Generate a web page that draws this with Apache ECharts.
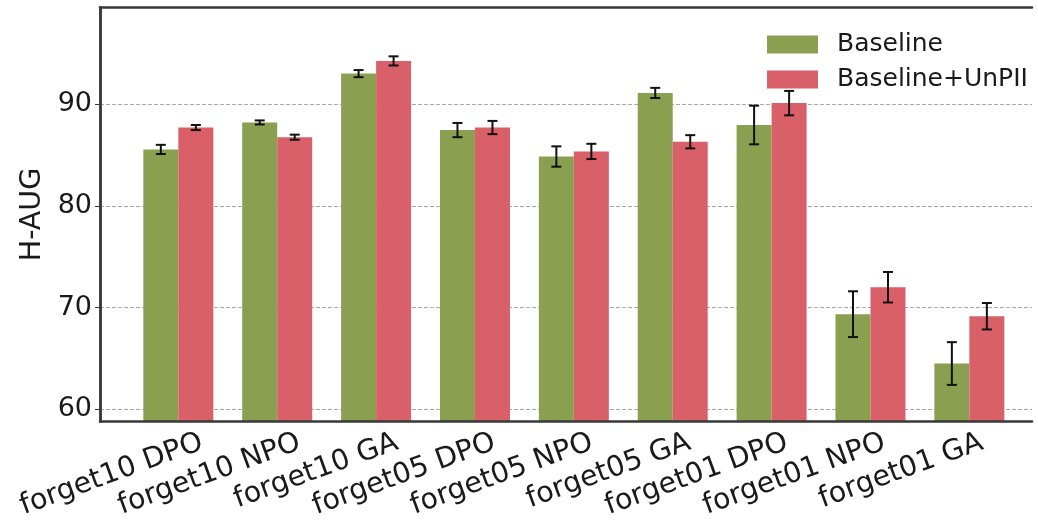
<!DOCTYPE html>
<html><head><meta charset="utf-8">
<script src="https://cdn.jsdelivr.net/npm/echarts@6/dist/echarts.min.js"></script>
<style>html,body{margin:0;padding:0;background:#fff}#c{width:1038px;height:522px}</style>
</head><body><div id="c"></div>
<script>
const categories = ['forget10 DPO','forget10 NPO','forget10 GA','forget05 DPO','forget05 NPO','forget05 GA','forget01 DPO','forget01 NPO','forget01 GA'];
const baseline    = [85.55, 88.2, 93.0, 87.45, 84.85, 91.1, 87.95, 69.35, 64.5];
const baselineErr = [0.45, 0.2, 0.35, 0.7, 1.0, 0.5, 1.9, 2.25, 2.1];
const unpii       = [87.7, 86.75, 94.25, 87.7, 85.35, 86.3, 90.1, 72.0, 69.15];
const unpiiErr    = [0.25, 0.25, 0.45, 0.65, 0.75, 0.65, 1.2, 1.5, 1.3];
const yTicks = [60, 70, 80, 90];
const Y_MIN = 58.8, Y_MAX = 99.5;

const GREEN = '#8b9f50', RED = '#d95f69';
const BAR_W = 35, CAP = 5;
const FONT = 'DejaVu Sans';
const FRAME = '#383838';

const chart = echarts.init(document.getElementById('c'), null, {renderer: 'canvas'});

function errRender(sign) {
  return function (params, api) {
    const x = api.value(0), v = api.value(1), e = api.value(2);
    const hi = api.coord([x, v + e]);
    const lo = api.coord([x, v - e]);
    const cx = hi[0] + sign * BAR_W / 2;
    const st = {stroke: '#111', lineWidth: 2};
    return {type: 'group', children: [
      {type: 'line', shape: {x1: cx, y1: hi[1], x2: cx, y2: lo[1]}, style: st},
      {type: 'line', shape: {x1: cx - CAP, y1: hi[1], x2: cx + CAP, y2: hi[1]}, style: st},
      {type: 'line', shape: {x1: cx - CAP, y1: lo[1], x2: cx + CAP, y2: lo[1]}, style: st}
    ]};
  };
}

const gTop = 7.5, gH = 414;
const option = {
  animation: false,
  backgroundColor: '#fff',
  textStyle: {fontFamily: FONT},
  grid: [
    {left: 100, top: gTop, width: 932, height: gH},
    {left: 128.9, top: gTop, width: 889.9, height: gH},
    {left: 153.25, top: gTop, width: 877.5, height: gH}
  ],
  legend: {
    orient: 'vertical', left: 767, top: 32, padding: 0,
    itemWidth: 51, itemHeight: 18, itemGap: 10, icon: 'rect',
    data: ['Baseline', 'Baseline+UnPII'],
    textStyle: {fontFamily: FONT, fontSize: 25, color: '#1a1a1a', lineHeight: 18, padding: [0, 0, 0, 14]}
  },
  xAxis: [
    {gridIndex: 0, type: 'value', min: 0, max: 1, position: 'bottom', z: 10,
      axisLine: {show: true, onZero: false, lineStyle: {color: FRAME, width: 2.5}},
      axisTick: {show: false}, axisLabel: {show: false}, splitLine: {show: false}},
    {gridIndex: 0, type: 'value', min: 0, max: 1, position: 'top', z: 10,
      axisLine: {show: true, onZero: false, lineStyle: {color: FRAME, width: 2.5}},
      axisTick: {show: false}, axisLabel: {show: false}, splitLine: {show: false}},
    {gridIndex: 1, type: 'category', data: categories,
      axisLine: {show: false}, axisTick: {show: false}, axisLabel: {show: false}, splitLine: {show: false}},
    {gridIndex: 2, type: 'category', data: categories,
      axisLine: {show: false}, axisTick: {show: false}, splitLine: {show: false},
      axisLabel: {show: true, interval: 0, rotate: 20, margin: 22, fontFamily: FONT, fontSize: 28.5, color: '#1a1a1a'}}
  ],
  yAxis: [
    {gridIndex: 0, type: 'value', min: Y_MIN, max: Y_MAX, position: 'left', z: 0,
      name: 'H-AUG', nameLocation: 'middle', nameGap: 46,
      nameTextStyle: {fontFamily: FONT, fontSize: 28.5, color: '#1a1a1a'},
      axisLine: {show: true, lineStyle: {color: FRAME, width: 2.5}},
      axisTick: {show: true, length: 5, inside: false, customValues: yTicks, lineStyle: {color: FRAME, width: 1}},
      axisLabel: {show: true, margin: 8, customValues: yTicks, fontFamily: FONT, fontSize: 27, color: '#1a1a1a'},
      splitLine: {show: true, lineStyle: {color: '#aaaaaa', width: 1, type: [4, 2]}}},
    {gridIndex: 0, type: 'value', min: Y_MIN, max: Y_MAX, position: 'right', z: 10,
      axisLine: {show: true, lineStyle: {color: FRAME, width: 2.5}},
      axisTick: {show: false}, axisLabel: {show: false}, splitLine: {show: false}},
    {gridIndex: 1, type: 'value', min: Y_MIN, max: Y_MAX, show: false},
    {gridIndex: 2, type: 'value', min: Y_MIN, max: Y_MAX, show: false}
  ],
  series: [
    {name: 'Baseline', type: 'bar', xAxisIndex: 2, yAxisIndex: 2, data: baseline,
      barWidth: BAR_W, barGap: '0%', itemStyle: {color: GREEN}},
    {name: 'Baseline+UnPII', type: 'bar', xAxisIndex: 2, yAxisIndex: 2, data: unpii,
      barWidth: BAR_W, barGap: '0%', itemStyle: {color: RED}},
    {name: 'errBaseline', type: 'custom', xAxisIndex: 2, yAxisIndex: 2, z: 5,
      data: categories.map((c, i) => [i, baseline[i], baselineErr[i]]),
      renderItem: errRender(-1)},
    {name: 'errUnpii', type: 'custom', xAxisIndex: 2, yAxisIndex: 2, z: 5,
      data: categories.map((c, i) => [i, unpii[i], unpiiErr[i]]),
      renderItem: errRender(1)}
  ]
};
chart.setOption(option);
</script>
</body></html>
